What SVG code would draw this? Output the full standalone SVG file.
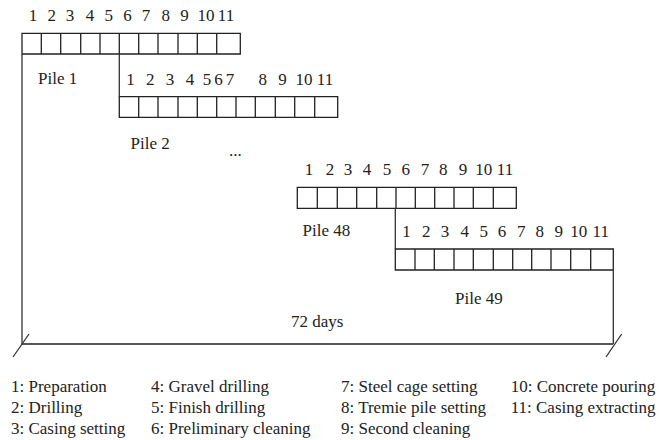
<svg xmlns="http://www.w3.org/2000/svg" width="671" height="440" viewBox="0 0 671 440" font-family="'Liberation Serif', 'DejaVu Serif', serif">
<style>
text{font-family:'Liberation Serif','DejaVu Serif',serif;font-size:17px;fill:#222}
.n{text-anchor:middle}
.box{fill:none;stroke:#222;stroke-width:1.3}
.ln{fill:none;stroke:#333;stroke-width:1.3}
.ax{fill:none;stroke:#555;stroke-width:1.8}
</style>
<rect width="671" height="440" fill="#fff"/>
<g id="pile1">
<path class="box" d="M22,33.3H240.3V54H22Z M41.3,33.3V54 M60.7,33.3V54 M80.7,33.3V54 M100,33.3V54 M119.3,33.3V54 M138.7,33.3V54 M158,33.3V54 M178,33.3V54 M197.3,33.3V54 M216.7,33.3V54"/>
<text class="n" x="33" y="21">1</text><text class="n" x="51.7" y="21">2</text><text class="n" x="70" y="21">3</text><text class="n" x="90" y="21">4</text><text class="n" x="108.7" y="21">5</text><text class="n" x="127.5" y="21">6</text><text class="n" x="146" y="21">7</text><text class="n" x="165.8" y="21">8</text><text class="n" x="184.5" y="21">9</text><text class="n" x="206" y="21">10</text><text class="n" x="226" y="21">11</text>
<text x="38" y="83.5">Pile 1</text>
</g>
<g id="pile2">
<path class="box" d="M119.3,96.7H337.7V117.3H119.3Z M138.7,96.7V117.3 M158,96.7V117.3 M178,96.7V117.3 M197.3,96.7V117.3 M216.7,96.7V117.3 M236,96.7V117.3 M255.3,96.7V117.3 M275.3,96.7V117.3 M294.7,96.7V117.3 M314.7,96.7V117.3"/>
<text class="n" x="130.5" y="84.5">1</text><text class="n" x="150.2" y="84.5">2</text><text class="n" x="170" y="84.5">3</text><text class="n" x="190" y="84.5">4</text><text class="n" x="207" y="84.5">5</text><text class="n" x="218.5" y="84.5">6</text><text class="n" x="230" y="84.5">7</text><text class="n" x="262.8" y="84.5">8</text><text class="n" x="282.5" y="84.5">9</text><text class="n" x="304" y="84.5">10</text><text class="n" x="325" y="84.5">11</text>
<text x="130.5" y="148.5">Pile 2</text>
</g>
<text x="229" y="156">...</text>
<g id="pile48">
<path class="box" d="M297.3,187.3H516.3V208.3H297.3Z M317.3,187.3V208.3 M337.3,187.3V208.3 M356.7,187.3V208.3 M376.7,187.3V208.3 M396,187.3V208.3 M415.3,187.3V208.3 M434.7,187.3V208.3 M454,187.3V208.3 M473.3,187.3V208.3 M493.3,187.3V208.3"/>
<text class="n" x="309" y="175">1</text><text class="n" x="330" y="175">2</text><text class="n" x="348" y="175">3</text><text class="n" x="367" y="175">4</text><text class="n" x="387" y="175">5</text><text class="n" x="405.8" y="175">6</text><text class="n" x="425" y="175">7</text><text class="n" x="443.3" y="175">8</text><text class="n" x="463" y="175">9</text><text class="n" x="483.7" y="175">10</text><text class="n" x="505" y="175">11</text>
<text x="302.5" y="236">Pile 48</text>
</g>
<g id="pile49">
<path class="box" d="M395.3,249H613.3V270H395.3Z M415,249V270 M434.3,249V270 M454,249V270 M473.3,249V270 M493.3,249V270 M512.7,249V270 M531.7,249V270 M551,249V270 M570.7,249V270 M590.7,249V270"/>
<text class="n" x="406.5" y="237">1</text><text class="n" x="426.3" y="237">2</text><text class="n" x="445" y="237">3</text><text class="n" x="464.7" y="237">4</text><text class="n" x="483.7" y="237">5</text><text class="n" x="502" y="237">6</text><text class="n" x="521.3" y="237">7</text><text class="n" x="539.7" y="237">8</text><text class="n" x="558.8" y="237">9</text><text class="n" x="578.8" y="237">10</text><text class="n" x="600.8" y="237">11</text>
<text x="455" y="303.5">Pile 49</text>
</g>
<g id="connectors">
<path class="ln" d="M22,54V344 M119.3,54V96.7 M395.3,208.3V249 M613.3,270V344"/>
<path class="ax" d="M22,344H613.3"/>
<path class="ln" d="M13,357L29,334 M606,357L621.7,334"/>
</g>
<text x="291" y="327">72 days</text>
<g id="legend">
<text x="11" y="391.7">1: Preparation</text>
<text x="11" y="412.7">2: Drilling</text>
<text x="11" y="433.5">3: Casing setting</text>
<text x="151" y="391.7">4: Gravel drilling</text>
<text x="151" y="412.7">5: Finish drilling</text>
<text x="151" y="433.5">6: Preliminary cleaning</text>
<text x="341" y="391.7">7: Steel cage setting</text>
<text x="341" y="412.7">8: Tremie pile setting</text>
<text x="341" y="433.5">9: Second cleaning</text>
<text x="510.7" y="391.7">10: Concrete pouring</text>
<text x="510.7" y="412.7">11: Casing extracting</text>
</g>
</svg>
